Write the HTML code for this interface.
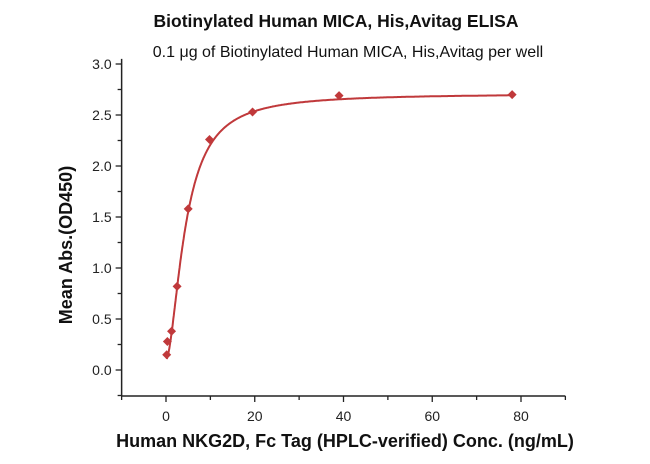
<!DOCTYPE html>
<html><head><meta charset="utf-8"><style>
html,body{margin:0;padding:0;background:#fff;}
svg{display:block;font-family:"Liberation Sans","DejaVu Sans",sans-serif;}
</style></head><body>
<svg id="chart" width="650" height="464">
<text x="336" y="27" text-anchor="middle" font-size="17.5" font-weight="bold" fill="#111">Biotinylated Human MICA, His,Avitag ELISA</text>
<text x="348" y="57" text-anchor="middle" font-size="16" fill="#111">0.1 μg of Biotinylated Human MICA, His,Avitag per well</text>
<text x="345" y="447" text-anchor="middle" font-size="18" font-weight="bold" fill="#111">Human NKG2D, Fc Tag (HPLC-verified) Conc. (ng/mL)</text>
<text transform="translate(72,245) rotate(-90)" text-anchor="middle" font-size="18" font-weight="bold" fill="#111">Mean Abs.(OD450)</text>
<g id="axes"></g>
<g id="plot"></g>
</svg>
<script>
const xVals=[0.156,0.3125,1.25,2.5,5,9.8,19.5,39,78];
const yVals=[0.15,0.28,0.38,0.82,1.58,2.26,2.53,2.69,2.70];
const xTicks=[0,20,40,60,80];
const yTicks=[0.0,0.5,1.0,1.5,2.0,2.5,3.0];
const fitParams=[0.1,2.71,4.4,1.75];
const NS="http://www.w3.org/2000/svg";
function X(v){return 166+(v-0)*(521-166)/80;}
function Y(v){return 370-v*102;}
const axes=document.getElementById('axes'),plot=document.getElementById('plot');
function mk(tag,attrs,parent){const e=document.createElementNS(NS,tag);for(const k in attrs)e.setAttribute(k,attrs[k]);parent.appendChild(e);return e;}
const xa=mk('line',{x1:X(-10),x2:X(90),y1:396,y2:396,stroke:'#222','stroke-width':1.5},axes);


const ya=mk('line',{x1:X(-10),x2:X(-10),y1:Y(3.05),y2:396,stroke:'#222','stroke-width':1.5},axes);


for(let v=-10;v<=90;v+=10){const major=xTicks.includes(v);
 const t=mk('line',{x1:X(v),x2:X(v),y1:396,y2:396+(major?6:4),stroke:'#222','stroke-width':1.3},axes);
 
 }
xTicks.forEach(v=>{const t=mk('text',{x:X(v),y:421,'text-anchor':'middle','font-size':14,fill:'#222'},axes);t.textContent=v;
 
 });
for(let v=-0.25;v<=3.01;v+=0.25){const major=Math.abs(v*2-Math.round(v*2))<1e-6&&v>=0;
 const t=mk('line',{x1:X(-10),x2:X(-10)-(major?6:4),y1:Y(v),y2:Y(v),stroke:'#222','stroke-width':1.3},axes);
 
 }
yTicks.forEach(v=>{const t=mk('text',{x:X(-10)-10,y:Y(v)+5,'text-anchor':'end','font-size':14,fill:'#222'},axes);t.textContent=v.toFixed(1);
 
 });
const [a,d,c,b]=fitParams;
let pts=[];for(let x=xVals[0];x<=xVals[xVals.length-1];x+=0.1){const y=d+(a-d)/(1+Math.pow(x/c,b));pts.push(X(x).toFixed(1)+','+Y(y).toFixed(1));}
const fit=mk('polyline',{points:pts.join(' '),fill:'none',stroke:'#c0393b','stroke-width':2},plot);


xVals.forEach((x,i)=>{const cx=X(x),cy=Y(yVals[i]),r=4.5;
 const p=mk('polygon',{points:`${cx},${cy-r} ${cx+r},${cy} ${cx},${cy+r} ${cx-r},${cy}`,fill:'#c0393b'},plot);
 
 });
</script>
</body></html>
